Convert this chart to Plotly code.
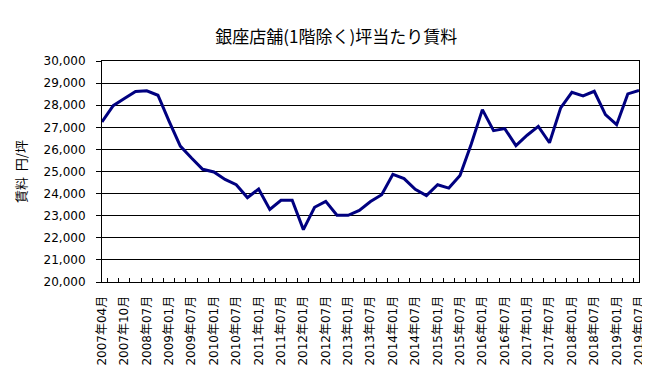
import plotly.graph_objects as go

title_text = "銀座店舗(1階除く)坪当たり賃料"
y_title = "賃料  円/坪"

periods = [
    "2007年04月", "2007年07月", "2007年10月", "2008年01月", "2008年07月", "2008年10月",
    "2009年01月", "2009年04月", "2009年07月", "2009年10月", "2010年01月", "2010年04月",
    "2010年07月", "2010年10月", "2011年01月", "2011年04月", "2011年07月", "2011年10月",
    "2012年01月", "2012年04月", "2012年07月", "2012年10月", "2013年01月", "2013年04月",
    "2013年07月", "2013年10月", "2014年01月", "2014年04月", "2014年07月", "2014年10月",
    "2015年01月", "2015年04月", "2015年07月", "2015年10月", "2016年01月", "2016年04月",
    "2016年07月", "2016年10月", "2017年01月", "2017年04月", "2017年07月", "2017年10月",
    "2018年01月", "2018年04月", "2018年07月", "2018年10月", "2019年01月", "2019年04月",
    "2019年07月",
]

rent = [
    27240, 27980, 28300, 28620, 28650, 28450,
    27270, 26150, 25610, 25100, 24980, 24640,
    24400, 23820, 24210, 23280, 23700, 23700,
    22370, 23380, 23650, 23020, 23020, 23240,
    23640, 23950, 24870, 24680, 24190, 23910,
    24400, 24250, 24820, 26230, 27800, 26850,
    26940, 26170, 26640, 27040, 26300, 27880,
    28580, 28420, 28630, 27570, 27120, 28510,
    28670,
]

tick_text = [p if i % 2 == 0 else "" for i, p in enumerate(periods)]

font_family = "DejaVu Sans, Noto Sans CJK JP, sans-serif"

fig = go.Figure()
fig.add_trace(go.Scatter(
    x=periods, y=rent, mode="lines",
    line=dict(color="#000080", width=3),
    showlegend=False,
))

fig.update_layout(
    width=650, height=381,
    margin=dict(l=92, r=15, t=53, b=107),
    paper_bgcolor="white", plot_bgcolor="white",
    font=dict(family=font_family, size=11, color="black"),
    title=dict(text=title_text, x=0.505, xanchor="center", y=0.925, yanchor="middle",
               font=dict(size=17, color="black", family="Noto Sans CJK JP, sans-serif")),
)

fig.update_xaxes(
    type="category",
    tickmode="array", tickvals=periods, ticktext=tick_text,
    tickson="boundaries", ticks="inside", ticklen=4, tickcolor="black",
    tickangle=-90, tickfont=dict(size=12), ticklabelstandoff=8,
    showline=True, linecolor="black", linewidth=1, mirror=True,
    showgrid=False, zeroline=False,
)

fig.update_yaxes(
    range=[20000, 30000], dtick=1000, tickformat=",d",
    ticks="outside", ticklen=5, tickcolor="black",
    tickfont=dict(size=12), ticklabelstandoff=8,
    showline=True, linecolor="black", linewidth=1, mirror=True,
    showgrid=True, gridcolor="black", gridwidth=1, zeroline=False,
    title=dict(text=y_title, font=dict(size=13, family="Noto Sans CJK JP, sans-serif"), standoff=14),
)

fig.write_html("out.html")
